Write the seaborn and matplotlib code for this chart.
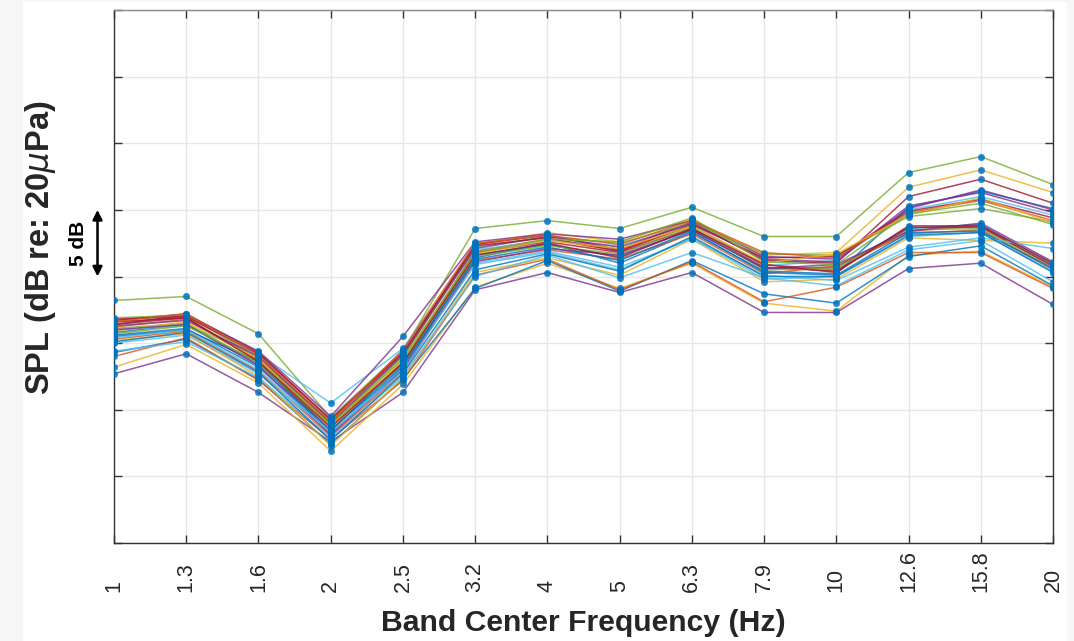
import numpy as np
import pandas as pd
import matplotlib
matplotlib.use("Agg")
import matplotlib.pyplot as plt
import matplotlib.transforms as mtransforms
from matplotlib.patches import Rectangle
from matplotlib import font_manager
import seaborn as sns

# Third-octave band centres (Hz)
bands = ["1", "1.3", "1.6", "2", "2.5", "3.2", "4", "5", "6.3", "7.9", "10", "12.6", "15.8", "20"]

# Band levels per recording, dB re 20 uPa
s01 = [45.8, 46.4, 43.4, 38.6, 43.0, 51.6, 52.4, 51.5, 53.5, 50.6, 50.7, 53.6, 53.9, 50.9]
s02 = [46.2, 46.8, 43.8, 38.9, 43.5, 51.9, 52.8, 51.9, 53.8, 50.9, 50.5, 53.4, 53.8, 50.7]
s03 = [46.5, 47.0, 44.1, 38.8, 43.9, 52.4, 53.3, 52.6, 54.3, 51.6, 51.8, 56.7, 58.0, 56.3]
s04 = [42.7, 44.2, 41.3, 37.6, 41.3, 49.0, 50.3, 48.8, 50.3, 47.3, 47.3, 50.6, 51.0, 47.9]
s05 = [48.2, 48.5, 45.7, 39.4, 44.4, 53.6, 54.2, 53.6, 55.2, 53.0, 53.0, 57.8, 59.0, 56.9]
s06 = [46.0, 46.3, 44.2, 40.5, 44.6, 52.0, 52.7, 52.3, 53.9, 50.8, 51.2, 55.0, 56.0, 54.6]
s07 = [46.7, 47.2, 44.3, 39.2, 44.2, 52.4, 53.1, 52.0, 54.1, 51.2, 51.0, 56.0, 57.3, 55.5]
s08 = [45.5, 46.0, 43.6, 38.2, 43.2, 51.4, 52.5, 51.0, 53.3, 50.4, 50.2, 55.2, 56.4, 55.1]
s09 = [45.3, 45.9, 42.9, 38.0, 42.8, 51.2, 52.0, 51.3, 53.2, 50.2, 50.8, 53.2, 53.5, 50.5]
s10 = [43.2, 44.9, 42.0, 36.9, 41.9, 49.2, 51.0, 49.1, 51.0, 48.0, 47.4, 51.6, 51.9, 49.2]
s11 = [46.4, 47.1, 44.4, 39.5, 45.5, 52.6, 53.2, 52.8, 54.2, 51.5, 51.3, 55.1, 56.5, 55.0]
s12 = [46.9, 47.1, 43.9, 39.0, 44.0, 52.2, 53.0, 52.5, 54.0, 51.7, 51.6, 54.5, 55.1, 54.1]
s13 = [45.0, 45.6, 42.7, 38.3, 43.1, 50.9, 51.8, 50.5, 52.9, 49.8, 50.0, 53.0, 53.3, 50.4]
s14 = [46.6, 46.9, 43.7, 38.4, 43.6, 51.8, 52.6, 51.8, 53.6, 50.7, 50.4, 53.7, 53.7, 50.8]
s15 = [44.3, 45.3, 42.3, 37.4, 42.3, 49.1, 51.2, 48.9, 51.2, 48.7, 48.0, 51.5, 52.3, 49.3]
s16 = [44.0, 45.4, 42.2, 37.8, 42.2, 50.1, 51.3, 49.0, 51.1, 48.1, 49.2, 51.8, 51.8, 49.1]
s17 = [45.2, 45.7, 42.5, 37.3, 42.4, 50.3, 51.4, 50.1, 52.8, 49.6, 49.8, 52.9, 52.7, 52.5]
s18 = [46.3, 46.7, 44.0, 39.0, 44.1, 52.1, 53.0, 52.2, 54.0, 51.3, 51.1, 55.3, 56.3, 54.8]
s19 = [46.1, 46.5, 43.5, 38.7, 43.4, 51.5, 52.3, 51.7, 53.7, 50.5, 50.6, 53.5, 53.6, 50.6]
s20 = [44.4, 45.1, 42.4, 37.9, 42.5, 50.0, 51.6, 49.9, 51.8, 49.9, 49.3, 52.0, 52.7, 49.6]
s21 = [46.8, 47.0, 44.2, 39.3, 44.3, 52.3, 52.9, 51.9, 53.9, 51.4, 51.5, 54.9, 55.8, 54.4]
s22 = [45.6, 46.1, 43.2, 38.5, 43.3, 51.3, 52.2, 51.2, 53.4, 50.3, 50.1, 53.3, 53.4, 50.6]
s23 = [46.6, 47.2, 44.1, 39.1, 44.5, 52.5, 53.1, 52.4, 54.2, 51.8, 51.4, 54.8, 55.7, 54.2]
s24 = [45.9, 46.6, 43.8, 38.6, 43.7, 51.7, 52.7, 52.1, 53.8, 51.0, 51.7, 54.6, 55.9, 54.0]
s25 = [46.0, 46.4, 43.3, 38.1, 43.0, 51.1, 52.1, 51.6, 53.5, 50.6, 50.9, 53.4, 54.0, 51.1]
s26 = [45.7, 46.3, 43.6, 38.9, 43.8, 51.8, 52.8, 52.6, 54.4, 51.1, 50.9, 54.7, 55.5, 53.9]
s27 = [45.4, 46.0, 43.0, 38.3, 42.9, 51.0, 51.9, 50.7, 52.8, 50.1, 49.7, 52.2, 52.9, 52.1]
s28 = [46.4, 46.9, 43.6, 38.7, 43.5, 51.6, 52.5, 51.4, 53.6, 50.9, 50.3, 53.8, 53.8, 51.0]
s29 = [45.1, 45.8, 42.8, 37.7, 42.7, 50.5, 51.7, 50.4, 53.0, 50.0, 50.0, 53.1, 53.3, 50.3]

series = [s01, s02, s03, s04, s05, s06, s07, s08, s09, s10, s11, s12, s13, s14, s15,
          s16, s17, s18, s19, s20, s21, s22, s23, s24, s25, s26, s27, s28, s29]

# MATLAB default colour order, cycled over the recordings
matlab_colors = ["#0072BD", "#D95319", "#EDB120", "#7E2F8E", "#77AC30", "#4DBEEE", "#A2142F"]
palette = [matlab_colors[i % len(matlab_colors)] for i in range(len(series))]

rows = []
for k, vals in enumerate(series):
    for j, v in enumerate(vals):
        rows.append({"band": j, "spl": v, "rec": f"rec{k + 1:02d}"})
df = pd.DataFrame(rows)

sns.set_theme(style="ticks")
names = {f.name for f in font_manager.fontManager.ttflist}
narrow = "Liberation Sans Narrow" if "Liberation Sans Narrow" in names else "Liberation Sans"
plt.rcParams["font.family"] = ["Liberation Sans", "DejaVu Sans"]
plt.rcParams["mathtext.fontset"] = "dejavusans"

fig = plt.figure(figsize=(10.74, 6.41), dpi=100, facecolor="#f6f6f6")
# white panel behind the axes area
panel = Rectangle((23 / 1074, 0), (1067 - 23) / 1074, 639 / 641,
                  transform=fig.transFigure, facecolor="white",
                  edgecolor="none", zorder=-10)
fig.add_artist(panel)
ax = fig.add_axes([114 / 1074, (641 - 543) / 641, (1053 - 114) / 1074, (543 - 10) / 641])
ax.set_zorder(1)
ax.set_facecolor("white")

sns.lineplot(data=df, x="band", y="spl", hue="rec", palette=palette, ax=ax,
             legend=False, linewidth=1.1, alpha=0.8, estimator=None, sort=False)
sns.scatterplot(data=df, x="band", y="spl", ax=ax, color="#0072BD", s=22,
                edgecolor="#0072BD", linewidth=0.3, alpha=0.85, legend=False, zorder=3)

ax.set_xlim(0, len(bands) - 1)
ax.set_ylim(30, 70)
ax.set_xticks(range(len(bands)))
ax.set_xticklabels(bands)
ax.set_yticks(np.arange(30, 71, 5))
ax.set_yticklabels([])

ax.grid(True, color="#e6e6e6", linewidth=1.0)
ax.set_axisbelow(True)
for side in ["left", "right", "bottom", "top"]:
    ax.spines[side].set_visible(True)
    ax.spines[side].set_color("#333333")
    ax.spines[side].set_linewidth(1.0)
ax.spines["top"].set_color("#8c8c8c")

ax.tick_params(axis="both", which="major", direction="in", length=6, width=1.0,
               color="#333333", top=True, right=True)
ax.tick_params(axis="x", pad=35)
for lbl in ax.get_xticklabels():
    lbl.set_rotation(90)
    lbl.set_rotation_mode("anchor")
    lbl.set_ha("left")
    lbl.set_va("center")
    lbl.set_fontfamily([narrow, "Liberation Sans"])
    lbl.set_fontsize(15.5 if narrow == "Liberation Sans" else 17.5)
    lbl.set_color("#262626")

ax.set_xlabel("Band Center Frequency (Hz)",
              fontsize=21.7 if narrow == "Liberation Sans" else 25,
              fontweight="bold", family=[narrow, "Liberation Sans"],
              color="#262626", va="top")
ax.xaxis.set_label_coords(0.5, (543 - 609) / 533)
ax.set_ylabel(r"SPL (dB re: 20$\mu$Pa)", fontsize=23.5, fontweight="bold",
              color="#262626", va="center")
ax.yaxis.set_label_coords((41 - 114) / 939, (543 - 248) / 533)

# 5 dB scale bar, spanning one grid interval
trans = mtransforms.blended_transform_factory(ax.transAxes, ax.transData)
xa = (97.5 - 114) / 939
ax.annotate("", xy=(xa, 55), xytext=(xa, 50), xycoords=trans, textcoords=trans,
            arrowprops=dict(arrowstyle="<|-|>", color="black", lw=1.8,
                            shrinkA=0, shrinkB=0, mutation_scale=14),
            annotation_clip=False)
ax.text((79 - 114) / 939, 52.5, "5 dB", transform=trans, rotation=90,
        fontsize=15, fontweight="bold", ha="center", va="center", color="black")

fig.savefig("out.png", dpi=100, facecolor=fig.get_facecolor())
